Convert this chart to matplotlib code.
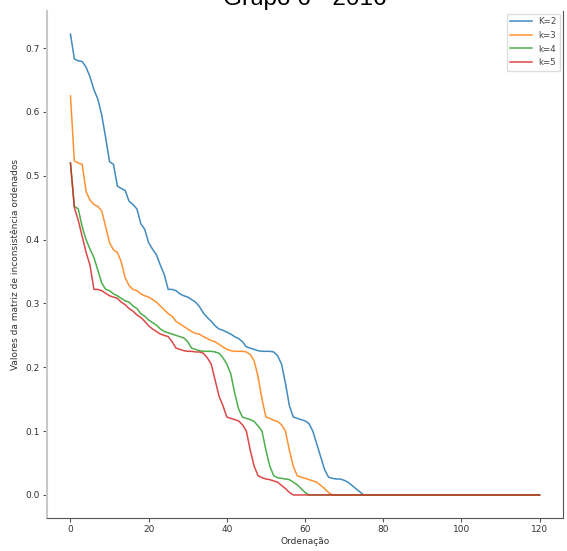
import numpy as np
import matplotlib
matplotlib.use("Agg")
import matplotlib.pyplot as plt

TITLE = "Grupo 6 - 2016"
X_LABEL = "Ordenação"
Y_LABEL = "Valores da matriz de inconsistência ordenados"
LABELS = ["K=2", "k=3", "k=4", "k=5"]
COLORS = ["#1f77b4", "#ff7f0e", "#2ca02c", "#d62728"]
N_POINTS = 121

# valores (o resto da serie e zero ate 120)
k2 = [0.722, 0.683, 0.680, 0.679, 0.670, 0.655, 0.635, 0.620, 0.595, 0.560,
      0.522, 0.518, 0.484, 0.480, 0.477, 0.460, 0.455, 0.448, 0.425, 0.416,
      0.395, 0.385, 0.376, 0.360, 0.345, 0.322, 0.322, 0.320, 0.315, 0.312,
      0.310, 0.306, 0.302, 0.295, 0.285, 0.278, 0.272, 0.265, 0.260, 0.258,
      0.255, 0.252, 0.248, 0.245, 0.240, 0.232, 0.230, 0.228, 0.226, 0.225,
      0.225, 0.225, 0.224, 0.218, 0.205, 0.175, 0.140, 0.122, 0.120, 0.118,
      0.116, 0.112, 0.100, 0.080, 0.060, 0.040, 0.028, 0.026, 0.025, 0.025,
      0.023, 0.020, 0.015, 0.010, 0.005]
k3 = [0.625, 0.523, 0.520, 0.518, 0.475, 0.462, 0.455, 0.452, 0.445, 0.420,
      0.395, 0.384, 0.380, 0.365, 0.340, 0.328, 0.322, 0.320, 0.315, 0.312,
      0.310, 0.306, 0.302, 0.296, 0.290, 0.284, 0.280, 0.272, 0.268, 0.264,
      0.260, 0.256, 0.253, 0.252, 0.248, 0.245, 0.242, 0.240, 0.236, 0.232,
      0.228, 0.226, 0.225, 0.225, 0.225, 0.224, 0.220, 0.210, 0.185, 0.150,
      0.122, 0.120, 0.117, 0.115, 0.110, 0.100, 0.070, 0.045, 0.030, 0.028,
      0.026, 0.024, 0.022, 0.020, 0.015, 0.010, 0.004]
k4 = [0.520, 0.452, 0.448, 0.420, 0.400, 0.385, 0.372, 0.352, 0.332, 0.322,
      0.320, 0.315, 0.312, 0.308, 0.304, 0.302, 0.296, 0.292, 0.284, 0.280,
      0.274, 0.270, 0.266, 0.260, 0.256, 0.254, 0.252, 0.250, 0.248, 0.246,
      0.240, 0.230, 0.228, 0.226, 0.225, 0.225, 0.225, 0.224, 0.222, 0.215,
      0.205, 0.190, 0.160, 0.135, 0.122, 0.120, 0.118, 0.115, 0.108, 0.100,
      0.070, 0.045, 0.030, 0.027, 0.026, 0.025, 0.024, 0.020, 0.016, 0.010,
      0.004]
k5 = [0.520, 0.450, 0.430, 0.405, 0.380, 0.360, 0.322, 0.322, 0.320, 0.316,
      0.312, 0.310, 0.308, 0.302, 0.298, 0.292, 0.288, 0.282, 0.278, 0.272,
      0.265, 0.260, 0.256, 0.252, 0.250, 0.248, 0.240, 0.230, 0.228, 0.226,
      0.225, 0.225, 0.224, 0.224, 0.222, 0.215, 0.205, 0.180, 0.155, 0.140,
      0.122, 0.120, 0.118, 0.116, 0.110, 0.100, 0.070, 0.045, 0.030, 0.027,
      0.025, 0.024, 0.022, 0.020, 0.015, 0.010, 0.004]

series = [k2, k3, k4, k5]

fig = plt.figure(figsize=(5.67, 5.51), dpi=100)
ax = fig.add_axes([47 / 567, 33 / 551, 516 / 567, 507 / 551])

x = np.arange(N_POINTS)
for vals, lab, col in zip(series, LABELS, COLORS):
    y = np.zeros(N_POINTS)
    y[:len(vals)] = vals
    ax.plot(x, y, color=col, lw=1.1, alpha=0.85, label=lab)

ax.set_title(TITLE, fontsize=17.5, family="Liberation Sans", pad=4)
ax.set_xlabel(X_LABEL, fontsize=6.5, color="#333333", labelpad=2)
ax.set_ylabel(Y_LABEL, fontsize=6.5, color="#333333", labelpad=4)
ax.set_xticks([0, 20, 40, 60, 80, 100, 120])
ax.set_yticks([0.0, 0.1, 0.2, 0.3, 0.4, 0.5, 0.6, 0.7])
ax.tick_params(labelsize=6.5, length=3, width=0.8, colors="#555555",
               labelcolor="#333333", pad=2)

ax.spines["top"].set_visible(False)
ax.spines["left"].set_color("#c8c8c8")
ax.spines["left"].set_linewidth(1.5)
ax.spines["bottom"].set_color("#555555")
ax.spines["right"].set_color("#555555")

leg = ax.legend(loc="upper right", fontsize=6.2, framealpha=1,
                edgecolor="#dddddd", borderaxespad=0.3, handlelength=2.5,
                labelspacing=0.55)
for t in leg.get_texts():
    t.set_color("#444444")

fig.savefig("out.png", dpi=100)
